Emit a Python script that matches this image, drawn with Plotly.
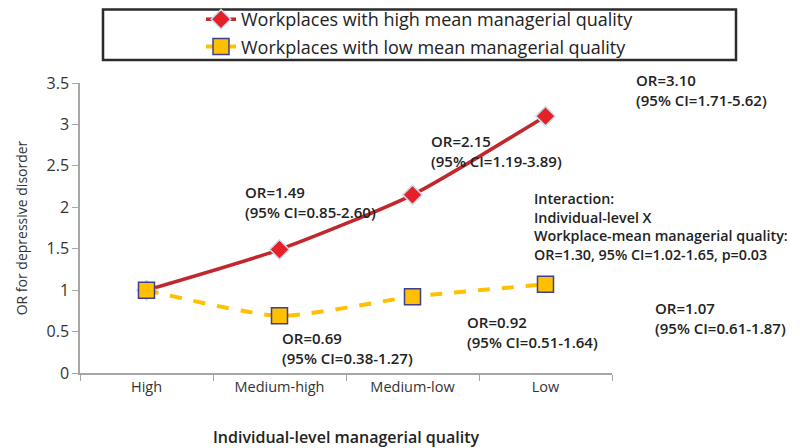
import plotly.graph_objects as go

categories = ["High", "Medium-high", "Medium-low", "Low"]
high_mean = [1.00, 1.49, 2.15, 3.10]
low_mean = [1.00, 0.69, 0.92, 1.07]
series_names = ["Workplaces with high mean managerial quality",
                "Workplaces with low mean managerial quality"]
high_labels = ["", "OR=1.49<br>(95% CI=0.85-2.60)", "OR=2.15<br>(95% CI=1.19-3.89)", "OR=3.10<br>(95% CI=1.71-5.62)"]
low_labels = ["", "OR=0.69<br>(95% CI=0.38-1.27)", "OR=0.92<br>(95% CI=0.51-1.64)", "OR=1.07<br>(95% CI=0.61-1.87)"]
interaction_text = ("Interaction:<br>Individual-level X<br>Workplace-mean managerial quality:<br>"
                    "OR=1.30, 95% CI=1.02-1.65, p=0.03")

# the page body margin places the figure 8px in from the window's top-left corner
OFF = 8
W, H = 800 - OFF, 448 - OFF
PL, PT, PR, PB = 80, 83, 612, 373   # plot area in window pixels
L, T = PL - OFF, PT - OFF
PW, PH = PR - PL, PB - PT
R, B = W - L - PW, H - T - PH

def px(x):
    return (x - PL) / PW

def py(y):
    return (PB - y) / PH

fig = go.Figure()
fig.add_trace(go.Scatter(
    x=categories, y=high_mean, name=series_names[0], mode="lines+markers", legendgroup="a",
    line=dict(color="#C1272D", width=3.5, shape="spline", smoothing=0.6),
    marker=dict(symbol="diamond", size=15, color="#E4202A", line=dict(color="#C8E0E8", width=1.5)),
))
fig.add_trace(go.Scatter(
    x=categories, y=low_mean, name=series_names[1], mode="lines+markers", legendgroup="b",
    line=dict(color="#FFC000", width=4, dash="dash", shape="spline", smoothing=0.6),
    marker=dict(symbol="square", size=16, color="#FFC000", line=dict(color="#3F3F8F", width=1.5)),
))

ann_font = dict(family="Open Sans", size=15, color="#222222", weight=600)
# label positions (window pixels) for each annotated point: (left, top)
high_pos = [None, (243, 180), (429, 129), (634, 68)]
low_pos = [None, (280, 326), (465, 310), (653, 296)]
anns = []
for lbls, poss in ((high_labels, high_pos), (low_labels, low_pos)):
    for t, p in zip(lbls, poss):
        if t and p:
            anns.append(dict(text=t, xref="paper", yref="paper", x=px(p[0]), y=py(p[1]),
                             xanchor="left", yanchor="top", align="left", showarrow=False, font=ann_font))
anns.append(dict(text=interaction_text, xref="paper", yref="paper", x=px(532), y=py(187),
                 xanchor="left", yanchor="top", align="left", showarrow=False,
                 font=dict(ann_font, size=14.3)))

fig.update_layout(
    width=W, height=H, margin=dict(l=L, r=R, t=T, b=B, autoexpand=False),
    paper_bgcolor="white", plot_bgcolor="white",
    font=dict(family="Open Sans", color="#333333"),
    annotations=anns,
    shapes=[dict(type="rect", xref="paper", yref="paper", x0=px(103), x1=px(736), y0=py(60), y1=py(9.5),
                 line=dict(color="#2B2B2B", width=2.5), fillcolor="white", layer="below")],
    legend=dict(x=px(201), y=py(1), xanchor="left", yanchor="top",
                bgcolor="rgba(0,0,0,0)", borderwidth=0,
                font=dict(size=18, color="#222222"), tracegroupgap=1, itemwidth=30),
    showlegend=True,
)
fig.update_xaxes(type="category", range=[-0.5, 3.5], tickson="boundaries", ticks="outside",
                 ticklen=6, tickcolor="#A6A6A6", showline=True, linecolor="#A6A6A6", linewidth=1.5,
                 showgrid=False, tickfont=dict(size=14.5, color="#333333"), automargin=False,
                 title=dict(text="Individual-level managerial quality", standoff=38,
                            font=dict(size=16, color="#222222", weight=600)))
fig.update_yaxes(range=[0, 3.5], dtick=0.5, ticks="outside", ticklen=6, tickcolor="#A6A6A6",
                 showline=True, linecolor="#A6A6A6", linewidth=1.5, showgrid=False, zeroline=False,
                 tickfont=dict(size=16, color="#333333"), automargin=False,
                 title=dict(text="OR for depressive disorder", standoff=16,
                            font=dict(size=14, color="#333333")))

fig.write_html("out.html")
